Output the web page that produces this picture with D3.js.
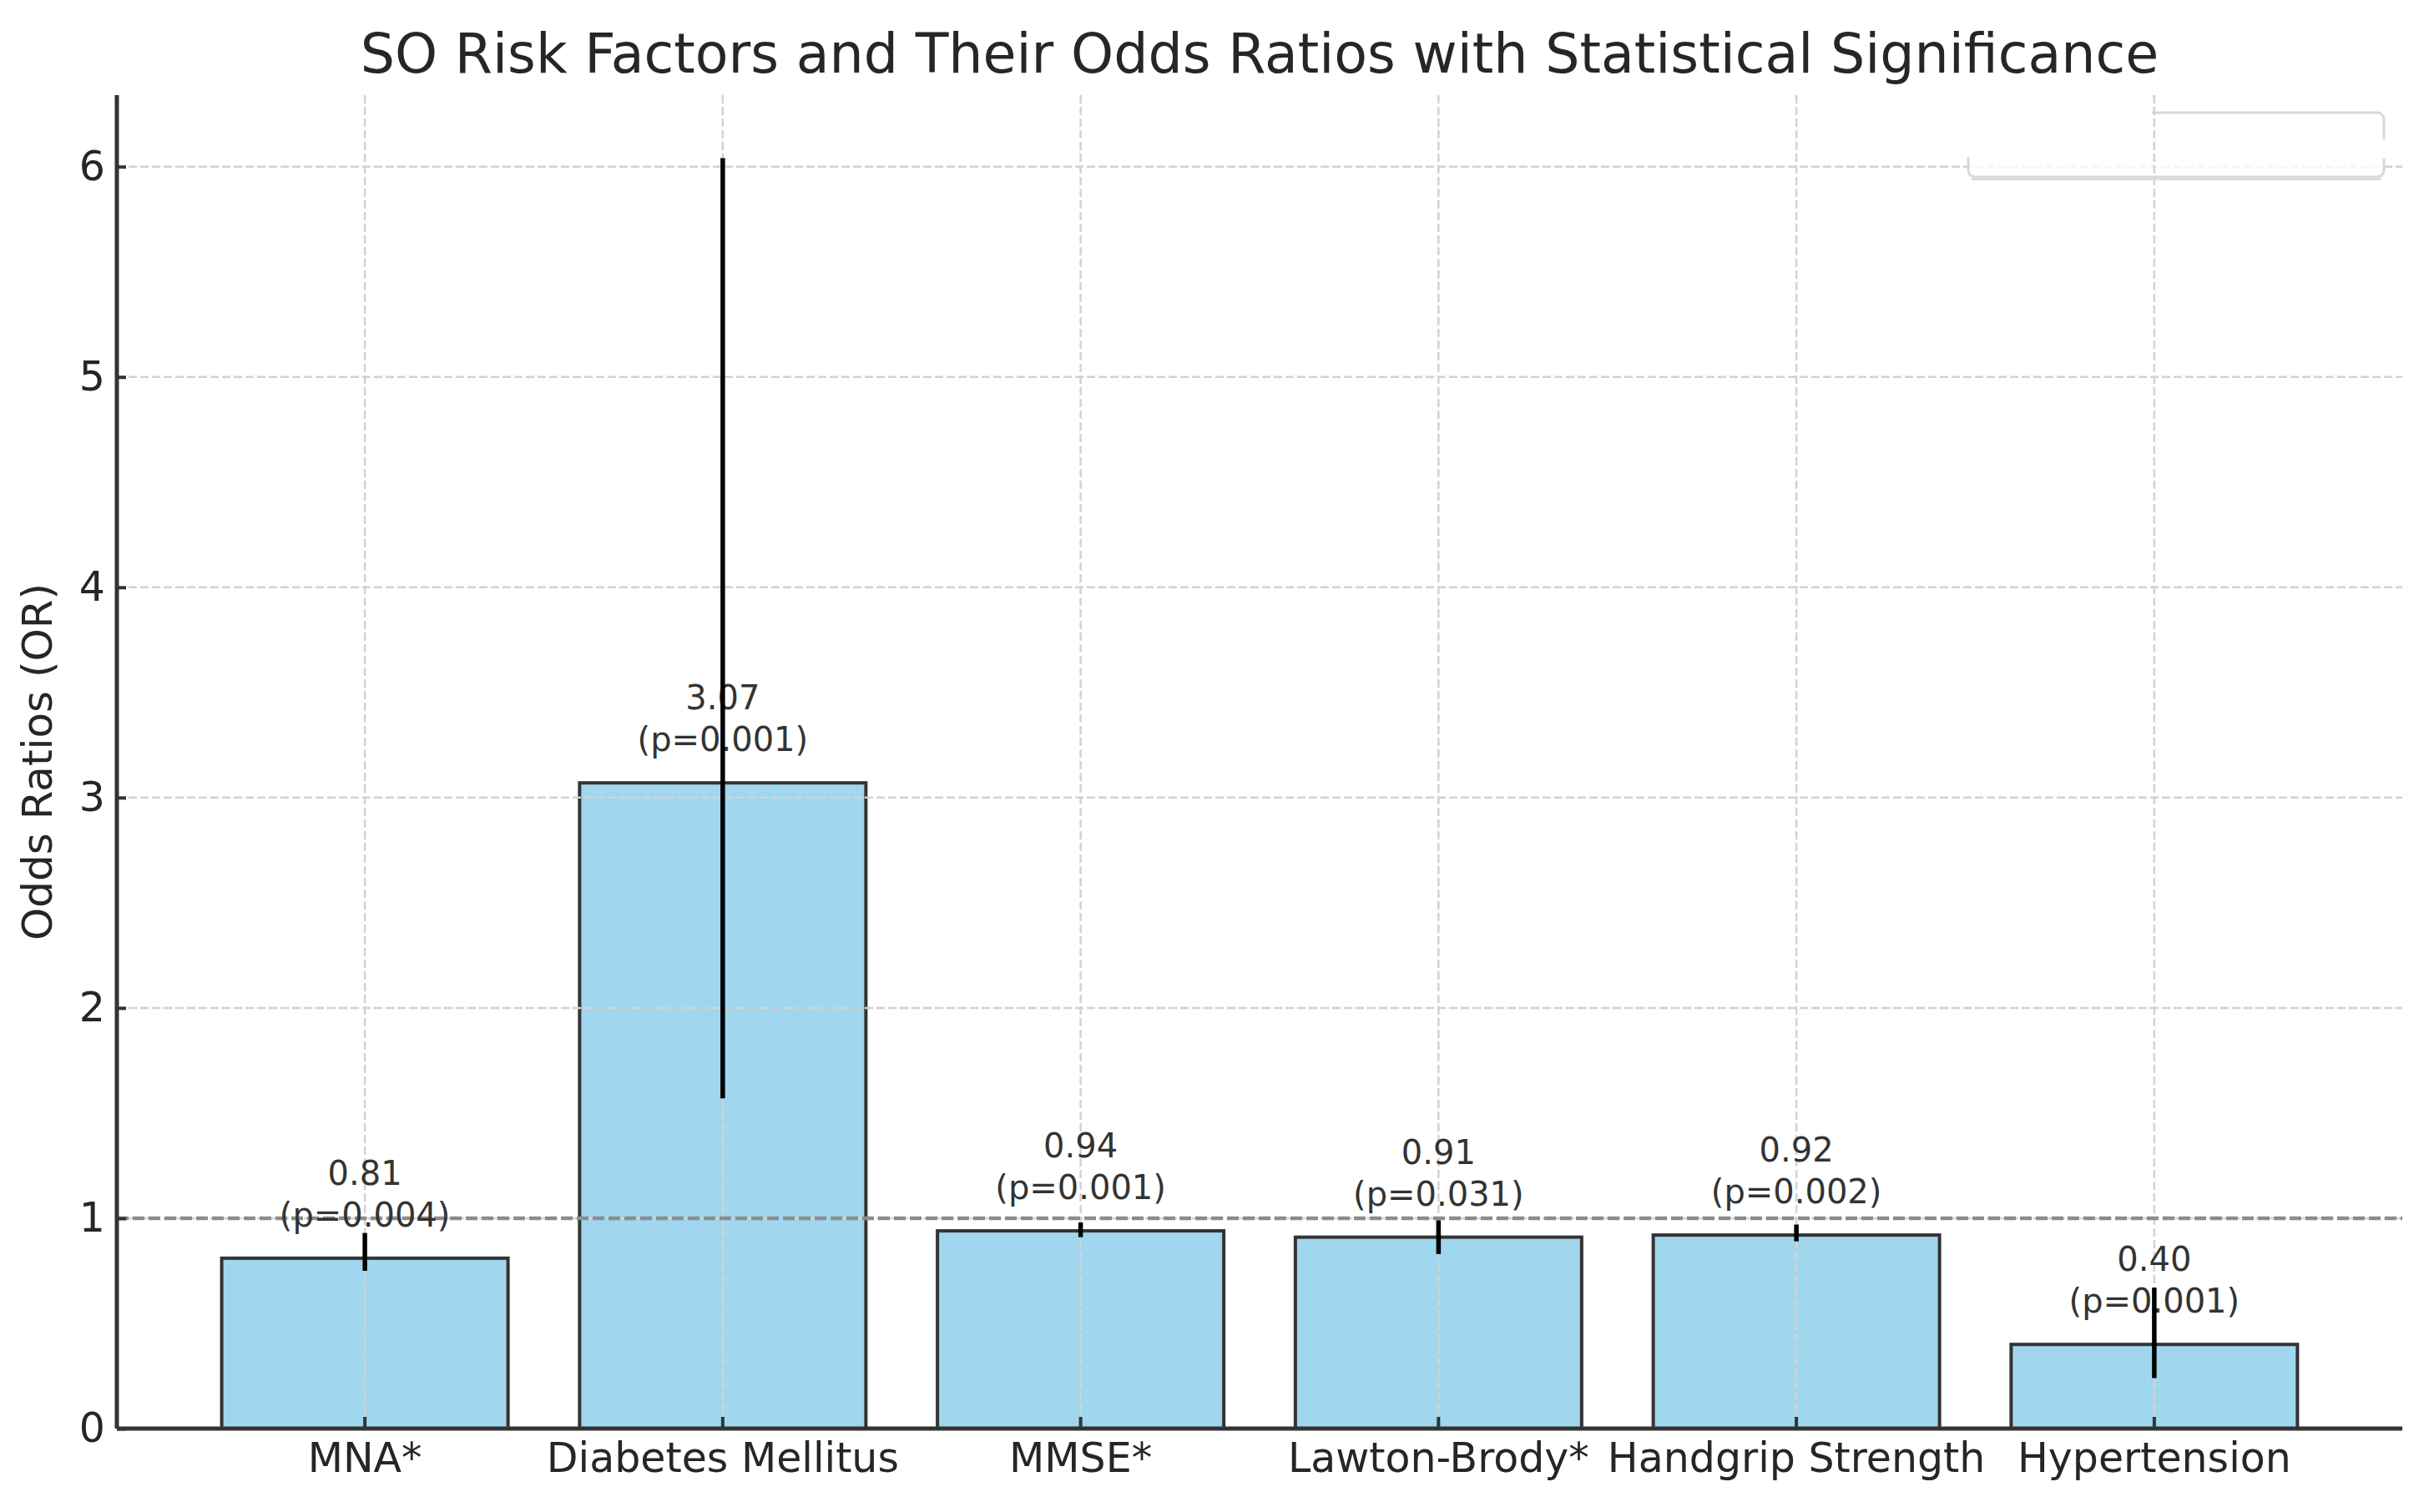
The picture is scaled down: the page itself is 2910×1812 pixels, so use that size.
<!DOCTYPE html>
<html>
<head>
<meta charset="utf-8">
<script src="https://cdn.jsdelivr.net/npm/d3@7"></script>
<style>
  body { margin: 0; background: #fff; }
  text { font-family: "DejaVu Sans", sans-serif; fill: #262626; }
</style>
</head>
<body>
<svg id="chart" width="2910" height="1812"></svg>
<script>
// values
var categories = ["MNA*", "Diabetes Mellitus", "MMSE*", "Lawton-Brody*", "Handgrip Strength", "Hypertension"];
var oddsRatios = [0.81, 3.07, 0.94, 0.91, 0.92, 0.40];
var ciLower = [0.75, 1.57, 0.91, 0.83, 0.89, 0.24];
var ciUpper = [0.93, 6.04, 0.98, 0.99, 0.97, 0.67];
var pValues = ["0.004", "0.001", "0.001", "0.031", "0.002", "0.001"];
var yTicks = [0, 1, 2, 3, 4, 5, 6];
var refLine = 1;

var data = categories.map(function(c, i) {
  return { name: c, or: oddsRatios[i], lo: ciLower[i], hi: ciUpper[i], p: pValues[i] };
});

var svg = d3.select("#chart");
var margin = { top: 114, right: 32, bottom: 100, left: 140 };
var width = 2910 - margin.left - margin.right;
var height = 1712 - margin.top;

var x = d3.scaleBand()
  .domain(categories)
  .range([0, width])
  .paddingInner(0.2)
  .paddingOuter(0.293);

var y = d3.scaleLinear()
  .domain([0, 6.34])
  .range([height, 0]);

var g = svg.append("g").attr("transform", "translate(" + margin.left + "," + margin.top + ")");

// bars
g.selectAll(".bar")
  .data(data)
  .enter()
  .append("rect")
  .attr("class", "bar")
  .attr("x", function(d) { return x(d.name); })
  .attr("y", function(d) { return y(d.or); })
  .attr("width", x.bandwidth())
  .attr("height", function(d) { return height - y(d.or); })
  .attr("fill", "#a0d6ee")
  .attr("stroke", "#333")
  .attr("stroke-width", 4);

// grid (drawn over the bars like in the original)
g.selectAll(".hgrid")
  .data(yTicks)
  .enter()
  .append("line")
  .attr("x1", 0)
  .attr("x2", width)
  .attr("y1", function(d) { return y(d); })
  .attr("y2", function(d) { return y(d); })
  .attr("stroke", "#d2d2d2")
  .attr("stroke-width", 2.5)
  .attr("stroke-dasharray", "10,4");

g.selectAll(".vgrid")
  .data(categories)
  .enter()
  .append("line")
  .attr("x1", function(d) { return x(d) + x.bandwidth() / 2; })
  .attr("x2", function(d) { return x(d) + x.bandwidth() / 2; })
  .attr("y1", 0)
  .attr("y2", height)
  .attr("stroke", "#d2d2d2")
  .attr("stroke-width", 2.5)
  .attr("stroke-dasharray", "10,4");

// OR = 1 reference
g.append("line")
  .attr("x1", 0)
  .attr("x2", width)
  .attr("y1", y(refLine))
  .attr("y2", y(refLine))
  .attr("stroke", "#8c8c8c")
  .attr("stroke-width", 4.5)
  .attr("stroke-dasharray", "14,5");

// empty legend frame, top right (partly hidden in the original)
var leg = g.append("g").attr("class", "legend");
leg.append("rect")
  .attr("x", 2218).attr("y", 21)
  .attr("width", 498).attr("height", 77)
  .attr("rx", 8)
  .attr("fill", "#fff").attr("fill-opacity", 0.8)
  .attr("stroke", "#d8d8d8").attr("stroke-width", 3);
leg.append("line")
  .attr("x1", 2222).attr("x2", 2712)
  .attr("y1", 100).attr("y2", 100)
  .attr("stroke", "#dcdcdc").attr("stroke-width", 4);
leg.append("rect")
  .attr("x", 2210).attr("y", 12).attr("width", 228).attr("height", 62)
  .attr("fill", "#fff");
leg.append("rect")
  .attr("x", 2705).attr("y", 53).attr("width", 20).attr("height", 23)
  .attr("fill", "#fff");
leg.append("line")
  .attr("x1", x(categories[5]) + x.bandwidth() / 2)
  .attr("x2", x(categories[5]) + x.bandwidth() / 2)
  .attr("y1", 0).attr("y2", 100)
  .attr("stroke", "#d2d2d2").attr("stroke-width", 2.5)
  .attr("stroke-dasharray", "10,4");

// value labels
var labels = g.selectAll(".lbl")
  .data(data)
  .enter()
  .append("text")
  .attr("class", "lbl")
  .attr("text-anchor", "middle")
  .style("font-size", "40px")
  .style("fill", "#333");

labels.append("tspan")
  .attr("x", function(d) { return x(d.name) + x.bandwidth() / 2; })
  .attr("y", function(d) { return y(d.or + 0.11) - 60; })
  .text(function(d) { return d.or.toFixed(2); });

labels.append("tspan")
  .attr("x", function(d) { return x(d.name) + x.bandwidth() / 2; })
  .attr("y", function(d) { return y(d.or + 0.11) - 10; })
  .text(function(d) { return "(p=" + d.p + ")"; });

// error bars
g.selectAll(".err")
  .data(data)
  .enter()
  .append("line")
  .attr("class", "err")
  .attr("x1", function(d) { return x(d.name) + x.bandwidth() / 2; })
  .attr("x2", function(d) { return x(d.name) + x.bandwidth() / 2; })
  .attr("y1", function(d) { return y(d.lo); })
  .attr("y2", function(d) { return y(d.hi); })
  .attr("stroke", "#000")
  .attr("stroke-width", 5.5);

// axes, ticks pointing inward
var yAxis = g.append("g")
  .attr("class", "axis")
  .call(d3.axisLeft(y).tickValues(yTicks).tickSize(-11).tickPadding(14).tickFormat(d3.format("d")));

var xAxis = g.append("g")
  .attr("class", "axis")
  .attr("transform", "translate(0," + height + ")")
  .call(d3.axisBottom(x).tickSize(-14).tickPadding(17));

svg.selectAll(".axis .domain").attr("stroke", "#333").attr("stroke-width", 5);
svg.selectAll(".axis .tick line").attr("stroke", "#333").attr("stroke-width", 4);
svg.selectAll(".axis text")
  .style("font-size", "49px")
  .style("font-family", "DejaVu Sans, sans-serif")
  .attr("fill", "#262626");

// only left and bottom spines in the original; d3's domain path has end caps, flatten them
yAxis.select(".domain").attr("d", "M0," + height + "V0");
xAxis.select(".domain").attr("d", "M0,0H" + width);

// y label
svg.append("text")
  .attr("transform", "translate(62," + (margin.top + height / 2) + ") rotate(-90)")
  .attr("text-anchor", "middle")
  .style("font-size", "50px")
  .text("Odds Ratios (OR)");

// title
svg.append("text")
  .attr("x", margin.left + width / 2)
  .attr("y", 87)
  .attr("text-anchor", "middle")
  .style("font-size", "65px")
  .text("SO Risk Factors and Their Odds Ratios with Statistical Significance");
</script>
</body>
</html>
